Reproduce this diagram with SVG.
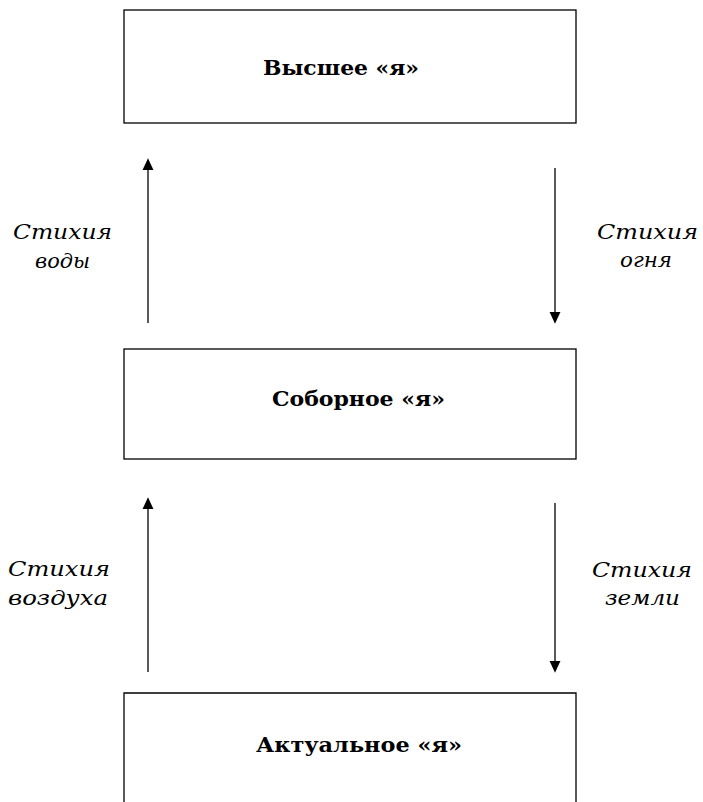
<svg xmlns="http://www.w3.org/2000/svg" width="703" height="802" viewBox="0 0 703 802">
<style>
.box{fill:none;stroke:#000;stroke-width:1.3}
.t{font-family:"DejaVu Serif","Liberation Serif",serif;font-weight:bold;font-size:20px;fill:#000}
.l{font-family:"DejaVu Serif","Liberation Serif",serif;font-style:italic;font-size:20px;fill:#000}
.c{stroke:#000;stroke-width:1.3;fill:none}
</style>
<defs>
<marker id="ah" markerWidth="12" markerHeight="14" refX="10" refY="6" orient="auto" markerUnits="userSpaceOnUse" viewBox="0 0 13 12">
<path d="M0,0 L13,6 L0,12 Z" fill="#000"/>
</marker>
</defs>
<rect width="703" height="802" fill="#fff"/>
<g id="node-higher">
<rect class="box" x="124" y="10" width="452" height="113"/>
<text class="t" x="263" y="75" textLength="156" lengthAdjust="spacingAndGlyphs">Высшее «я»</text>
</g>
<g id="node-sobornoe">
<rect class="box" x="124" y="349" width="452" height="110"/>
<text class="t" x="272" y="406" textLength="173" lengthAdjust="spacingAndGlyphs">Соборное «я»</text>
</g>
<g id="node-actual">
<path class="box" d="M124,802 L124,693 L576,693 L576,802"/>
<text class="t" x="256" y="752" textLength="206" lengthAdjust="spacingAndGlyphs">Актуальное «я»</text>
</g>
<g id="connectors">
<line class="c" x1="148" y1="323" x2="148" y2="161" marker-end="url(#ah)"/>
<line class="c" x1="555" y1="168" x2="555" y2="321" marker-end="url(#ah)"/>
<line class="c" x1="148" y1="672" x2="148" y2="500" marker-end="url(#ah)"/>
<line class="c" x1="555" y1="503" x2="555" y2="670" marker-end="url(#ah)"/>
</g>
<g id="labels">
<text class="l" x="13" y="239" textLength="99" lengthAdjust="spacingAndGlyphs">Стихия</text>
<text class="l" x="35" y="268" textLength="55" lengthAdjust="spacingAndGlyphs">воды</text>
<text class="l" x="597" y="239" textLength="101" lengthAdjust="spacingAndGlyphs">Стихия</text>
<text class="l" x="620" y="267" textLength="52" lengthAdjust="spacingAndGlyphs">огня</text>
<text class="l" x="8" y="576" textLength="102" lengthAdjust="spacingAndGlyphs">Стихия</text>
<text class="l" x="8" y="605" textLength="100" lengthAdjust="spacingAndGlyphs">воздуха</text>
<text class="l" x="592" y="577" textLength="100" lengthAdjust="spacingAndGlyphs">Стихия</text>
<text class="l" x="605" y="605" textLength="75" lengthAdjust="spacingAndGlyphs">земли</text>
</g>
</svg>
